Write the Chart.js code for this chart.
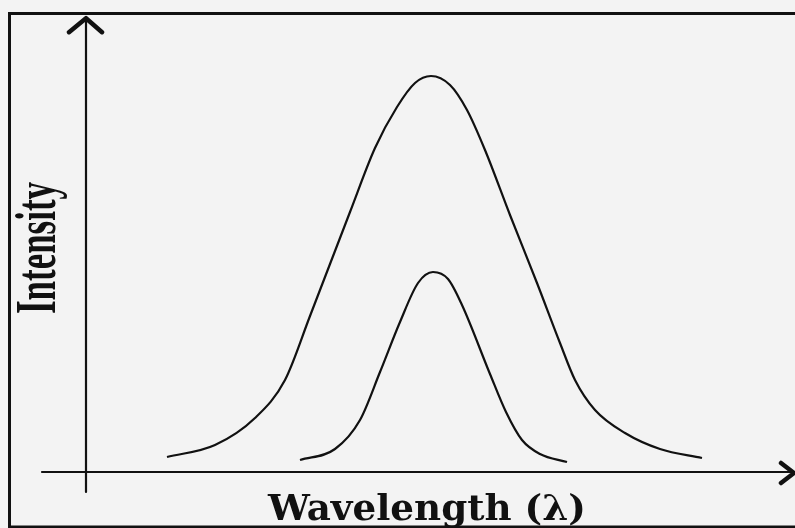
<!DOCTYPE html>
<html>
<head>
<meta charset="utf-8">
<script src="https://cdn.jsdelivr.net/npm/chart.js@4/dist/chart.umd.min.js"></script>
<style>
  html, body { margin: 0; padding: 0; background: #f3f3f3; }
  #wrap { width: 795px; height: 528px; position: relative; }
</style>
</head>
<body>
<div id="wrap"><canvas id="c"></canvas></div>
<script>
// ---- Data (arbitrary units) ----
const xAxisLabel = 'Wavelength (λ)';
const yAxisLabel = 'Intensity';

const xRange = [-17.2, 141.8];   // visible wavelength range
const yRange = [-14, 118];       // visible intensity range
const xAxisExtent = [-8.8, 141.8];  // drawn x-axis from .. to (arrow)
const yAxisExtent = [-5, 113.7];    // drawn y-axis from .. to (arrow)

const broadWavelength = [16.2, 25.8, 33.8, 39.8, 44.8, 52.8, 57.8, 62.2, 65.8, 69.0, 72.8, 76.2, 79.8, 84.8, 90.2, 94.8, 97.8, 101.8, 107.8, 114.8, 123.2];
const broadIntensity  = [3.75, 6.75, 13.5, 23.0, 39.0, 65.0, 81.0, 91.25, 97.25, 99.0, 96.75, 90.5, 80.5, 64.25, 47.25, 32.25, 23.0, 15.5, 9.75, 5.75, 3.5];

const narrowWavelength = [42.8, 49.8, 54.8, 58.8, 62.8, 66.4, 69.4, 72.4, 75.2, 80.8, 84.0, 87.2, 90.8, 96.2];
const narrowIntensity  = [3.0, 5.75, 13.0, 25.0, 37.5, 47.25, 50.0, 48.25, 41.75, 24.5, 15.0, 8.0, 4.5, 2.5];

const toPoints = (xs, ys) => xs.map((x, i) => ({ x, y: ys[i] }));

const decor = {
  id: 'decor',
  beforeDraw(chart) {
    const ctx = chart.ctx;
    ctx.save();
    ctx.fillStyle = '#f3f3f3';
    ctx.fillRect(0, 0, chart.width, chart.height);
    // frame
    ctx.strokeStyle = '#111';
    ctx.lineWidth = 3;
    ctx.strokeRect(9.5, 13.5, chart.width + 20, chart.height - 14.5);
    ctx.restore();
  },
  beforeDatasetsDraw(chart) {
    const ctx = chart.ctx;
    const xs = chart.scales.x, ys = chart.scales.y;
    const x0 = xs.getPixelForValue(0), y0 = ys.getPixelForValue(0);
    const xl = xs.getPixelForValue(xAxisExtent[0]), xr = xs.getPixelForValue(xAxisExtent[1]);
    const yb = ys.getPixelForValue(yAxisExtent[0]), yt = ys.getPixelForValue(yAxisExtent[1]);
    ctx.save();
    ctx.strokeStyle = '#111';
    ctx.lineCap = 'round';
    ctx.lineJoin = 'round';
    // axes lines
    ctx.lineWidth = 2.2;
    ctx.beginPath();
    ctx.moveTo(x0, yb); ctx.lineTo(x0, yt + 2);
    ctx.moveTo(xl, y0); ctx.lineTo(xr - 2, y0);
    ctx.stroke();
    // arrowheads
    ctx.lineWidth = 4.5;
    ctx.beginPath();
    ctx.moveTo(x0 - 17, yt + 15); ctx.lineTo(x0, yt + 1); ctx.lineTo(x0 + 16, yt + 15);
    ctx.moveTo(xr - 14, y0 - 9); ctx.lineTo(xr - 1, y0 + 1); ctx.lineTo(xr - 14, y0 + 11);
    ctx.stroke();

    // x label
    ctx.fillStyle = '#111';
    ctx.font = 'bold 35px "DejaVu Serif"';
    ctx.textBaseline = 'alphabetic';
    ctx.textAlign = 'center';
    let w = ctx.measureText(xAxisLabel).width;
    ctx.save();
    ctx.translate(427, 520);
    ctx.scale(318 / w, 1);
    ctx.fillText(xAxisLabel, 0, 0);
    ctx.restore();

    // y label (rotated, condensed)
    ctx.font = 'bold 58px "Liberation Serif"';
    w = ctx.measureText(yAxisLabel).width;
    ctx.save();
    ctx.translate(55, 248);
    ctx.rotate(-Math.PI / 2);
    ctx.scale(132 / w, 1);
    ctx.fillText(yAxisLabel, 0, 0);
    ctx.restore();
    ctx.restore();
  }
};

new Chart(document.getElementById('c'), {
  type: 'line',
  data: {
    datasets: [
      { label: 'Broad', data: toPoints(broadWavelength, broadIntensity),
        borderColor: '#111', borderWidth: 2.2, pointRadius: 0, fill: false,
        cubicInterpolationMode: 'monotone' },
      { label: 'Narrow', data: toPoints(narrowWavelength, narrowIntensity),
        borderColor: '#111', borderWidth: 2.2, pointRadius: 0, fill: false,
        cubicInterpolationMode: 'monotone' }
    ]
  },
  options: {
    responsive: true,
    maintainAspectRatio: false,
    animation: false,
    layout: { padding: 0 },
    plugins: { legend: { display: false }, tooltip: { enabled: false } },
    scales: {
      x: { type: 'linear', min: xRange[0], max: xRange[1], display: false },
      y: { type: 'linear', min: yRange[0], max: yRange[1], display: false }
    }
  },
  plugins: [decor]
});
</script>
</body>
</html>
